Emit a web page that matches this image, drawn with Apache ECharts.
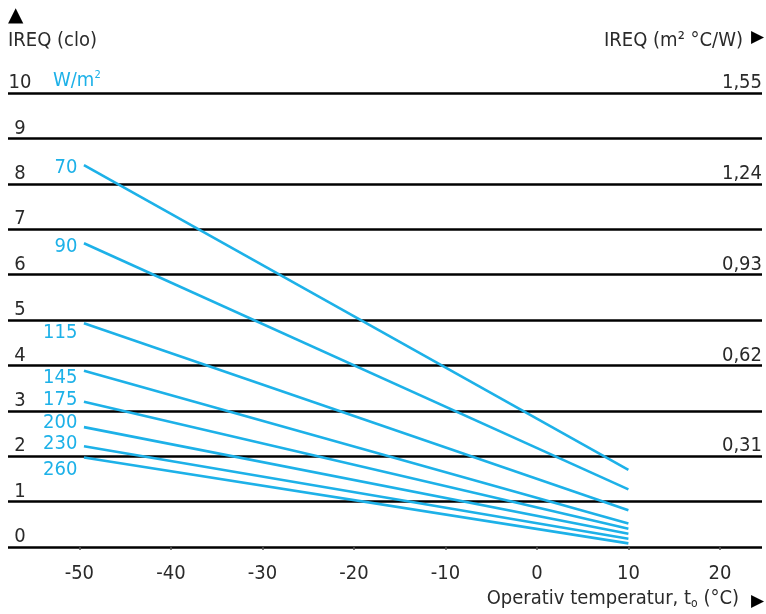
<!DOCTYPE html>
<html>
<head>
<meta charset="utf-8">
<script src="https://cdn.jsdelivr.net/npm/echarts@6/dist/echarts.min.js"></script>
<style>
html,body{margin:0;padding:0;background:#fff;}
#chart{width:766px;height:614px;}
</style>
</head>
<body>
<div id="chart"></div>
<script>
// ---- data ----
const metabolicRates = ['70', '90', '115', '145', '175', '200', '230', '260'];
const startTemp = -49.5;
const endTemp = 10;
const ireqAtStart = [8.41, 6.69, 4.93, 3.88, 3.20, 2.64, 2.22, 1.97];
const ireqAtEnd   = [1.70, 1.27, 0.81, 0.52, 0.40, 0.29, 0.18, 0.08];
const xTickValues = [-50, -40, -30, -20, -10, 0, 10, 20];
const yTickValues = [0, 1, 2, 3, 4, 5, 6, 7, 8, 9, 10];
const rightTickValues = [2, 4, 6, 8, 10];
const rightTickLabels = ['0,31', '0,62', '0,93', '1,24', '1,55'];

// ---- styling ----
const labelOffsets = [3, 4, 10, 7, -2, -4, -2, 12];
const FONT = "'Liberation Sans Narrow', 'DejaVu Sans Condensed', 'Liberation Sans', sans-serif";
const TXT = '#2a2a2a';
const BLUE = '#1DB1E8';
const FS = 20;

const series = metabolicRates.map((name, i) => ({
  type: 'line',
  name: name,
  symbol: 'circle',
  symbolSize: 1,
  showSymbol: true,
  itemStyle: { color: 'rgba(0,0,0,0)', borderWidth: 0 },
  silent: true,
  labelLayout: function (p) {
    return { dy: p.dataIndex === 0 ? labelOffsets[p.seriesIndex] : 0, hideOverlap: false };
  },
  lineStyle: { color: BLUE, width: 2.6 },
  data: [
    { value: [startTemp, ireqAtStart[i]],
      label: { show: true, formatter: name, position: 'left', distance: 6,
               color: BLUE, fontFamily: FONT, fontSize: FS } },
    { value: [endTemp, ireqAtEnd[i]] }
  ]
}));

const chart = echarts.init(document.getElementById('chart'), null, { renderer: 'canvas' });
chart.setOption({
  animation: false,
  backgroundColor: '#fff',
  grid: { left: 8, right: 4, top: 93, bottom: 67, containLabel: false },
  xAxis: {
    type: 'value',
    min: -57.8, max: 24.6,
    offset: 7,
    axisLine: { show: false },
    splitLine: { show: false },
    axisTick: { show: true, length: 3, customValues: xTickValues,
                lineStyle: { color: '#555', width: 1.5 } },
    axisLabel: { customValues: xTickValues, margin: 10, color: TXT,
                 fontFamily: FONT, fontSize: FS }
  },
  yAxis: [{
    type: 'value', min: 0, max: 10, interval: 1,
    position: 'left',
    axisLine: { show: false }, axisTick: { show: false },
    splitLine: { show: true, lineStyle: { color: '#000', width: 2.5 } },
    axisLabel: { inside: true, margin: 12, align: 'center', verticalAlign: 'bottom',
                 customValues: yTickValues, color: TXT, fontFamily: FONT, fontSize: FS }
  }, {
    type: 'value', min: 0, max: 10, interval: 1,
    position: 'right',
    axisLine: { show: false }, axisTick: { show: false },
    splitLine: { show: false },
    axisLabel: { inside: true, margin: 0, align: 'right', verticalAlign: 'bottom',
                 customValues: rightTickValues,
                 formatter: v => rightTickLabels[rightTickValues.indexOf(v)],
                 color: TXT, fontFamily: FONT, fontSize: FS }
  }],
  graphic: [
    { type: 'text', left: 8, top: 6,
      style: { text: '▲', fontFamily: 'DejaVu Sans', fontSize: 20, fill: '#000' } },
    { type: 'text', left: 8, top: 31,
      style: { text: 'IREQ (clo)', fontFamily: FONT, fontSize: FS, fill: TXT } },
    { type: 'text', right: 23, top: 31,
      style: { text: 'IREQ (m² °C/W)', fontFamily: FONT, fontSize: FS, fill: TXT } },
    { type: 'text', right: 2, top: 29,
      style: { text: '▶', fontFamily: 'DejaVu Sans', fontSize: 17, fill: '#000' } },
    { type: 'text', left: 53, top: 70,
      style: { text: 'W/m{s|2}', fontFamily: FONT, fontSize: FS, fill: BLUE,
               rich: { s: { fontSize: 11, verticalAlign: 'top', fill: BLUE, fontFamily: FONT, padding: [0,0,10,0] } } } },
    { type: 'text', right: 27, top: 589,
      style: { text: 'Operativ temperatur, t{s|o} (°C)', fontFamily: FONT, fontSize: FS, fill: TXT,
               rich: { s: { fontSize: 12, fill: TXT, fontFamily: FONT, padding: [10,0,0,0] } } } },
    { type: 'text', right: 2, top: 593,
      style: { text: '▶', fontFamily: 'DejaVu Sans', fontSize: 17, fill: '#000' } }
  ],
  series: series
});
</script>
</body>
</html>
